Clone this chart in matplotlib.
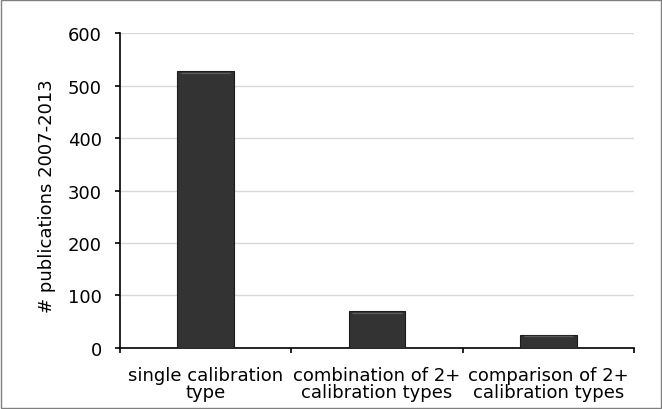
import matplotlib
matplotlib.use("Agg")
import matplotlib.pyplot as plt
from matplotlib.patches import Rectangle

# data
categories = ["single calibration\ntype", "combination of 2+\ncalibration types", "comparison of 2+\ncalibration types"]
counts = [528, 70, 25]
yticks = [0, 100, 200, 300, 400, 500, 600]

plt.rcParams['font.family'] = ['DejaVu Sans']

fig = plt.figure(figsize=(6.62, 4.10), dpi=100)
ax = fig.add_axes([0.181, 0.1495, 0.777, 0.7665])

x = list(range(len(categories)))
bars = ax.bar(x, counts, width=0.33, color='#333333', edgecolor='#1c1c1c', linewidth=0.8, zorder=3)

# a light line near the top of each bar, like the bevel in the original
for b in bars:
    ax.plot([b.get_x() + 0.02, b.get_x() + b.get_width() - 0.02],
            [b.get_height() - 3, b.get_height() - 3],
            color='#5a5a5a', linewidth=1.0, zorder=4, solid_capstyle='butt')

ax.set_xlim(-0.5, 2.5)
ax.set_ylim(0, 600)
ax.set_yticks(yticks)
ax.yaxis.grid(True, color='#d9d9d9', linewidth=1.0, zorder=0)
ax.set_axisbelow(True)

ax.set_xticks(x)
ax.set_xticklabels(categories, fontsize=13, linespacing=0.95)
ax.set_xticks([-0.5, 0.5, 1.5, 2.5], minor=True)
ax.tick_params(axis='x', which='major', length=0, pad=13)
ax.tick_params(axis='x', which='minor', length=3.6, width=1.2, direction='out')
ax.tick_params(axis='y', length=3.6, width=1.2, labelsize=13, pad=9.5)

for s in ['top', 'right']:
    ax.spines[s].set_visible(False)
ax.spines['left'].set_linewidth(1.2)
ax.spines['bottom'].set_linewidth(1.2)

ax.set_ylabel("# publications 2007-2013", fontsize=13, labelpad=9)
ax.yaxis.set_label_coords(-0.1235, 0.487)

# thin frame around whole figure
fig.patches.append(Rectangle((0.001, 0.002), 0.997, 0.996, transform=fig.transFigure,
                             fill=False, edgecolor='#7f7f7f', linewidth=1.0))

fig.savefig("out.png", dpi=100)
